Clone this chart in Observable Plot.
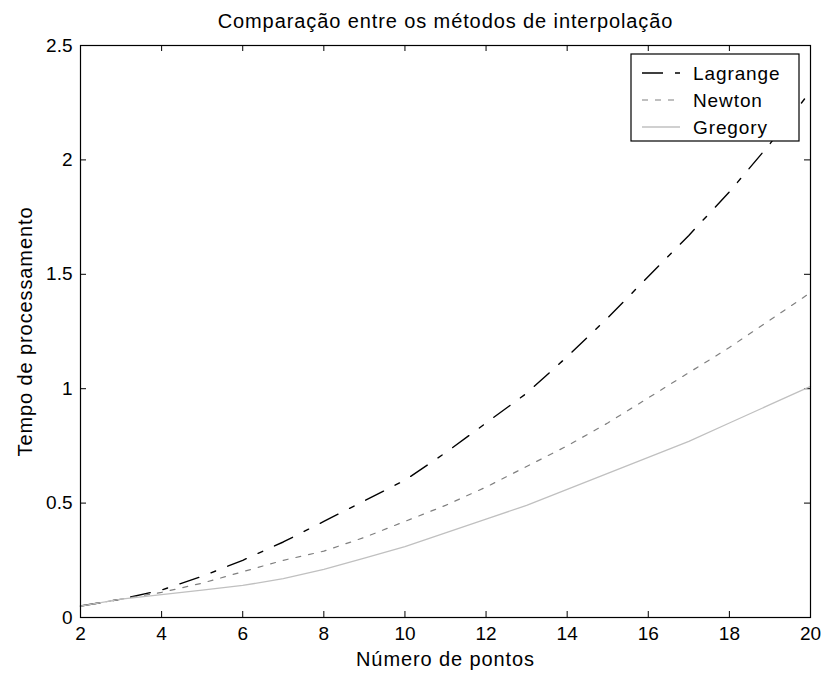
<!DOCTYPE html>
<html>
<head>
<meta charset="utf-8">
<script src="https://cdn.jsdelivr.net/npm/d3@7"></script>
<script src="https://cdn.jsdelivr.net/npm/@observablehq/plot@0.6"></script>
<style>
  body { margin: 0; background: #fff; }
  #wrap { position: relative; width: 822px; height: 677px; }
  #legend { position: absolute; }
</style>
</head>
<body>
<div id="wrap"></div>
<script>
const titleText = "Comparação entre os métodos de interpolação";
const xLabel = "Número de pontos";
const yLabel = "Tempo de processamento";
const seriesNames = ["Lagrange", "Newton", "Gregory"];
const nPontos  = [2, 3, 4, 5, 6, 7, 8, 9, 10, 11, 12, 13, 14, 15, 16, 17, 18, 19, 20];
const lagrange = [0.05, 0.08, 0.12, 0.18, 0.25, 0.33, 0.42, 0.51, 0.60, 0.72, 0.85, 0.98, 1.14, 1.31, 1.49, 1.67, 1.86, 2.07, 2.30];
const newton   = [0.05, 0.08, 0.11, 0.15, 0.20, 0.25, 0.29, 0.35, 0.42, 0.49, 0.57, 0.66, 0.75, 0.85, 0.96, 1.07, 1.18, 1.30, 1.42];
const gregory  = [0.05, 0.08, 0.10, 0.12, 0.14, 0.17, 0.21, 0.26, 0.31, 0.37, 0.43, 0.49, 0.56, 0.63, 0.70, 0.77, 0.85, 0.93, 1.01];
const xTicks = [2, 4, 6, 8, 10, 12, 14, 16, 18, 20];
const yTicks = [0, 0.5, 1, 1.5, 2, 2.5];

const seriesValues = [lagrange, newton, gregory];
const styles = {
  Lagrange: { stroke: "#000000", dash: "20,13,5,13", width: 1.4 },
  Newton:   { stroke: "#808080", dash: "5,8", width: 1.2 },
  Gregory:  { stroke: "#c0c0c0", dash: null, width: 1.3 }
};

const W = 822, H = 677, mL = 80, mR = 12, mT = 45, mB = 60;
const plotW = W - mL - mR, plotH = H - mT - mB, tick = 6;
const font = "'Liberation Sans', Arial, sans-serif";
const textStyle = "letter-spacing: 0.9px";

const lines = seriesNames.map((name, k) => {
  const rows = nPontos.map((n, i) => ({ n, t: seriesValues[k][i] }));
  const s = styles[name];
  return Plot.line(rows, { x: "n", y: "t", stroke: s.stroke, strokeWidth: s.width, strokeDasharray: s.dash || undefined });
});

const chart = Plot.plot({
  width: W, height: H,
  marginLeft: mL, marginRight: mR, marginTop: mT, marginBottom: mB,
  style: { fontFamily: font, fontSize: "19px", color: "#000", background: "#fff", overflow: "visible" },
  x: { domain: [2, 20] },
  y: { domain: [0, 2.5] },
  marks: [
    Plot.axisX(xTicks, { tickSize: 0, tickPadding: 9, tickFormat: d => String(d), label: null, fontSize: 19 }),
    Plot.axisY(yTicks, { tickSize: 0, tickPadding: 8, tickFormat: d => String(d), label: null, fontSize: 19 }),
    Plot.axisX({ ticks: [], tickSize: 0, label: xLabel, labelAnchor: "center", labelArrow: "none", labelOffset: 48, fontSize: 20 }),
    Plot.axisY({ ticks: [], tickSize: 0, label: yLabel, labelAnchor: "center", labelArrow: "none", labelOffset: 63, fontSize: 20 }),
    Plot.tickX(xTicks, { x: d => d, insetTop: plotH - tick, stroke: "#000" }),
    Plot.tickX(xTicks, { x: d => d, insetBottom: plotH - tick, stroke: "#000" }),
    Plot.tickY(yTicks, { y: d => d, insetLeft: plotW - tick, stroke: "#000" }),
    Plot.tickY(yTicks, { y: d => d, insetRight: plotW - tick, stroke: "#000" }),
    ...lines,
    Plot.frame({ stroke: "#000", strokeWidth: 1.2 }),
    Plot.text([titleText], { frameAnchor: "top", dy: -32, fontSize: 20, fill: "#000" })
  ]
});
d3.select(chart).selectAll("g[aria-label='x-axis label'] text, g[aria-label='y-axis label'] text, g[aria-label='text'] text")
  .attr("style", textStyle);
document.getElementById("wrap").appendChild(chart);

// Legend (inside the axes, upper right)
const lg = d3.select("#wrap").append("svg").attr("id", "legend")
  .attr("width", 170).attr("height", 89)
  .style("left", "630px").style("top", "53px");
lg.append("rect").attr("x", 1).attr("y", 1).attr("width", 168).attr("height", 87)
  .attr("fill", "#fff").attr("stroke", "#000").attr("stroke-width", 1.2);
seriesNames.forEach((name, i) => {
  const s = styles[name];
  const y = 20 + i * 27;
  const ln = lg.append("line").attr("x1", 12).attr("x2", 50).attr("y1", y).attr("y2", y)
    .attr("stroke", s.stroke).attr("stroke-width", s.width);
  if (s.dash) ln.attr("stroke-dasharray", name === "Lagrange" ? "21,12,5,12" : "6,7");
  lg.append("text").attr("x", 63).attr("y", y).attr("dy", "0.35em")
    .attr("font-family", font).attr("font-size", 19).attr("style", textStyle).text(name);
});
</script>
</body>
</html>
